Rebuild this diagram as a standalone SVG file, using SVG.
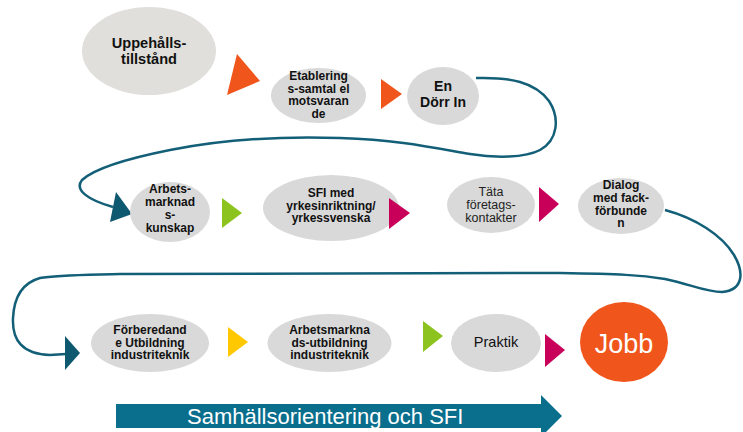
<svg xmlns="http://www.w3.org/2000/svg" width="743" height="432" viewBox="0 0 743 432">
<style>
.el{fill:#d9d9d9}
.t{font-family:"Liberation Sans",Arial,sans-serif;font-weight:bold;font-size:12px;fill:#111;text-anchor:middle}
.r{font-family:"Liberation Sans",Arial,sans-serif;font-size:12.5px;fill:#222;text-anchor:middle}
.curve{fill:none;stroke:#135f78;stroke-width:2.5}
.ah{fill:#0e5870}
.or{fill:#f0561b}
.gr{fill:#8cc31f}
.ye{fill:#ffc800}
.mg{fill:#c9005a}
</style>
<rect width="743" height="432" fill="#fff"/>
<g id="connectors">
<path class="curve" d="M476,78 C510,77 535,82 549,101 C560,118 558,140 540,150 C525,158 495,158 470,154 C430,147 400,140 340,138 C280,136 220,140 170,150 C130,158 95,168 82,180 C74,190 88,200 113,207"/>
<polygon class="ah" points="116,192 132,214 110,222"/>
<path class="curve" d="M665,210 C695,218 722,235 734,255 C744,272 744,290 722,292 C705,292 690,284 665,279 C640,275 620,274 560,273 L120,274 C80,275 55,275 40,278 C22,283 14,298 13,318 C12,340 22,354 50,355 L66,354"/>
<polygon class="ah" points="65,336 80,353 65,370"/>
</g>
<g id="n1">
<ellipse cx="149" cy="51" rx="67" ry="44" fill="#e0dfdb"/>
<text class="t" style="font-size:14.6px" x="149" y="47.5">Uppehålls-</text>
<text class="t" style="font-size:14.6px" x="149" y="64">tillstånd</text>
</g>
<g id="n2">
<ellipse class="el" cx="318.5" cy="95.5" rx="47.5" ry="27.5"/>
<text class="t" x="318.5" y="80">Etablering</text>
<text class="t" x="318.5" y="92.5">s-samtal el</text>
<text class="t" x="318.5" y="105">motsvaran</text>
<text class="t" x="318.5" y="117.5">de</text>
</g>
<g id="n3">
<ellipse class="el" cx="443" cy="96" rx="36" ry="29"/>
<text class="t" style="font-size:14px" x="443" y="91">En</text>
<text class="t" style="font-size:14px" x="443" y="107">Dörr In</text>
</g>
<g id="n4">
<ellipse class="el" cx="170" cy="212" rx="40" ry="30"/>
<text class="t" x="170" y="193">Arbets-</text>
<text class="t" x="170" y="206">marknad</text>
<text class="t" x="170" y="219">s-</text>
<text class="t" x="170" y="232">kunskap</text>
</g>
<g id="n5">
<ellipse class="el" cx="331" cy="208" rx="68" ry="33"/>
<text class="t" x="331" y="197">SFI med</text>
<text class="t" x="331" y="209.5">yrkesinriktning/</text>
<text class="t" x="331" y="222">yrkessvenska</text>
</g>
<g id="n6">
<ellipse class="el" cx="491" cy="205" rx="44" ry="28"/>
<text class="r" x="491" y="196">Täta</text>
<text class="r" x="491" y="209">företags-</text>
<text class="r" x="491" y="222">kontakter</text>
</g>
<g id="n7">
<ellipse class="el" cx="621" cy="206" rx="43" ry="28"/>
<text class="t" x="621" y="189">Dialog</text>
<text class="t" x="621" y="202">med fack-</text>
<text class="t" x="621" y="214.5">förbunde</text>
<text class="t" x="621" y="227">n</text>
</g>
<g id="n8">
<ellipse class="el" cx="150" cy="343" rx="59" ry="29"/>
<text class="t" x="150" y="334">Förberedand</text>
<text class="t" x="150" y="346.5">e Utbildning</text>
<text class="t" x="150" y="359">industriteknik</text>
</g>
<g id="n9">
<ellipse class="el" cx="329.5" cy="343" rx="62" ry="29"/>
<text class="t" x="329.5" y="334">Arbetsmarkna</text>
<text class="t" x="329.5" y="346.5">ds-utbildning</text>
<text class="t" x="329.5" y="359">industriteknik</text>
</g>
<g id="n10">
<ellipse class="el" cx="496" cy="343" rx="45" ry="29"/>
<text class="r" style="font-size:14.5px;fill:#111" x="496" y="347">Praktik</text>
</g>
<g id="n11">
<ellipse cx="624" cy="342" rx="44" ry="40" fill="#f0561b"/>
<text x="624" y="353" text-anchor="middle" font-family="'Liberation Sans',Arial,sans-serif" font-size="27" fill="#fff">Jobb</text>
</g>
<g id="arrows">
<polygon class="or" points="237,54 260,81 227,95"/>
<polygon class="or" points="381,79 402,94 381,109"/>
<polygon class="gr" points="222,198 242,213 222,228"/>
<polygon class="mg" points="389,198 410,213 389,229"/>
<polygon class="mg" points="539,187 559,204 539,222"/>
<polygon class="ye" points="228,327 248,342 228,357"/>
<polygon class="gr" points="423,321 443,336 423,352"/>
<polygon class="mg" points="545,334 565,350 545,367"/>
</g>
<g id="n12">
<polygon points="116,404 541,404 541,395 562,416 541,437 541,428 116,428" fill="#0a6e8d"/>
<text x="187" y="424" font-family="'Liberation Sans',Arial,sans-serif" font-size="22" fill="#fff">Samhällsorientering och SFI</text>
</g>
</svg>
